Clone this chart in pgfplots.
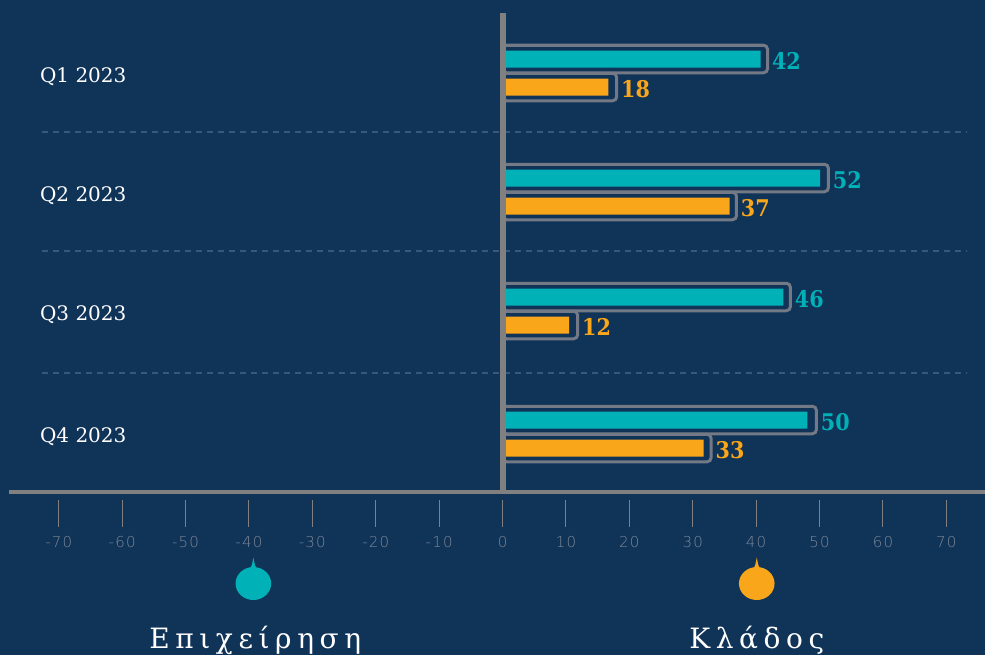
\documentclass[border=0pt]{standalone}
\usepackage{fontspec}
\usepackage{pgfplots}
\usepackage{pgfplotstable}
\pgfplotsset{compat=1.18}
\setmainfont{DejaVu Serif}
\newfontfamily\valfont{DejaVu Serif Condensed}
\newfontfamily\tickfont[LetterSpace=8]{DejaVu Sans ExtraLight}
\newfontfamily\legfont[LetterSpace=20]{DejaVu Serif}
\definecolor{bg}{HTML}{103358}
\definecolor{teal}{HTML}{00B2B8}
\definecolor{amber}{HTML}{FAA61A}
\definecolor{framegray}{HTML}{737A86}
\definecolor{ticktext}{HTML}{7D8797}
\definecolor{axisgray}{HTML}{808080}
\definecolor{griddash}{HTML}{36587C}

\pgfplotstableread{
y frame inner label
59 41.8 40.7 42
178 51.4 50.1 52
297 45.4 44.3 46
420 49.5 48.1 50
}\firmdata
\pgfplotstableread{
y frame inner label
87 18.0 16.7 18
206 36.9 35.8 37
325 11.85 10.5 12
448 32.9 31.7 33
}\sectordata

\pgfdeclareplotmark{drop}{%
  \pgfpathellipse{\pgfpointorigin}{\pgfqpoint{17.8pt}{0pt}}{\pgfqpoint{0pt}{16.5pt}}%
  \pgfusepathqfill
  \pgfpathmoveto{\pgfqpoint{-4pt}{13pt}}%
  \pgfpathlineto{\pgfqpoint{-1.4pt}{19pt}}%
  \pgfpathlineto{\pgfqpoint{0pt}{26pt}}%
  \pgfpathlineto{\pgfqpoint{1.4pt}{19pt}}%
  \pgfpathlineto{\pgfqpoint{4pt}{13pt}}%
  \pgfpathclose
  \pgfusepathqfill
}

\begin{document}
\begin{tikzpicture}
\useasboundingbox (-9pt,-163pt) rectangle (976pt,492pt);
\fill[bg] (-9pt,-163pt) rectangle (976pt,492pt);
\begin{axis}[
  scale only axis,
  width=976pt, height=479pt,
  xmin=-77.84, xmax=76.1,
  ymin=13, ymax=492,
  y dir=reverse,
  clip=false,
  axis on top,
  axis x line=bottom,
  axis y line=center,
  axis line style={axisgray, -},
  x axis line style={line width=4pt},
  y axis line style={line width=6pt},
  xtick={-70,-60,...,70},
  tick align=outside,
  major tick length=27pt,
  xtick style={axisgray, line width=1pt, yshift=-8pt},
  /pgf/number format/assume math mode=true,
  xticklabel style={font=\tickfont\fontsize{15}{15}\selectfont, text=ticktext, yshift=-14pt},
  ytick={76,195,314,436},
  yticklabels={Q1 2023,Q2 2023,Q3 2023,Q4 2023},
  ytick style={draw=none},
  yticklabel style={font=\fontsize{20}{20}\selectfont, text=white, anchor=west, xshift=-439pt, yshift=-1pt},
  nodes near coords style={font=\valfont\bfseries\fontsize{23}{23}\selectfont, inner sep=0pt, anchor=west, xshift=3pt, yshift=-2pt},
]
% row separators
\addplot[griddash, dash pattern=on 6pt off 5pt, line width=1.2pt] coordinates {(-72.7,132) (73.2,132)};
\addplot[griddash, dash pattern=on 6pt off 5pt, line width=1.2pt] coordinates {(-72.7,251) (73.2,251)};
\addplot[griddash, dash pattern=on 6pt off 5pt, line width=1.2pt] coordinates {(-72.7,373) (73.2,373)};

% frames carry the value labels
\addplot[xbar, bar width=27.5pt, bar shift=0pt, draw=framegray, line width=3pt, rounded corners=4pt, fill=none,
  nodes near coords, point meta=explicit symbolic, every node near coord/.append style={text=teal}]
  table[x=frame, y=y, meta=label] {\firmdata};
\addplot[xbar, bar width=27.5pt, bar shift=0pt, draw=framegray, line width=3pt, rounded corners=4pt, fill=none,
  nodes near coords, point meta=explicit symbolic, every node near coord/.append style={text=amber}]
  table[x=frame, y=y, meta=label] {\sectordata};

\addplot[xbar, bar width=17pt, bar shift=0pt, draw=none, fill=teal] table[x=inner, y=y] {\firmdata};
\addplot[xbar, bar width=17pt, bar shift=0pt, draw=none, fill=amber] table[x=inner, y=y] {\sectordata};

% legend markers
\addplot[only marks, mark=drop, teal] coordinates {(-39.3,583.5)};
\addplot[only marks, mark=drop, amber] coordinates {(40.1,583.5)};
\node[text=white, font=\legfont\fontsize{28}{28}\selectfont, inner sep=0pt, anchor=base] at (axis cs:-39.0,648) {Επιχείρηση};
\node[text=white, font=\legfont\fontsize{28}{28}\selectfont, inner sep=0pt, anchor=base] at (axis cs:40.1,648) {Κλάδος};
\end{axis}
\end{tikzpicture}
\end{document}
